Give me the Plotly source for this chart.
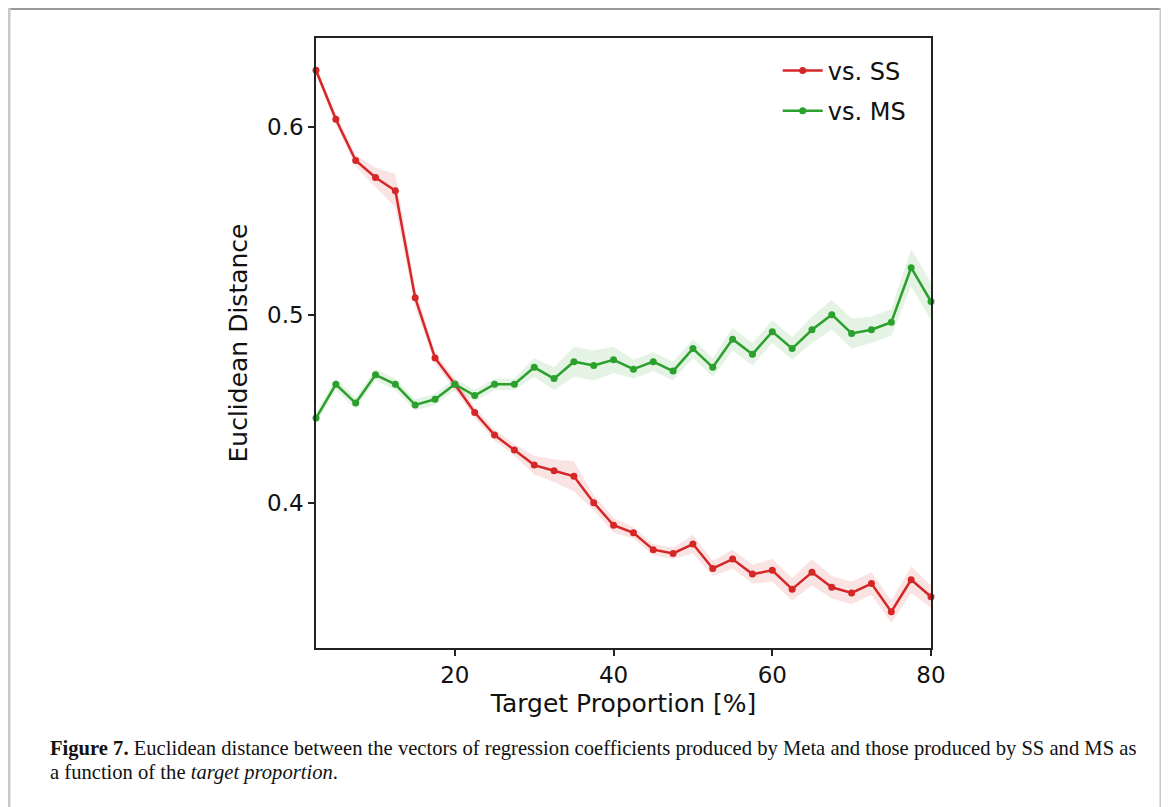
import plotly.graph_objects as go

target_proportion = [2.5, 5, 7.5, 10, 12.5, 15, 17.5, 20, 22.5, 25, 27.5, 30, 32.5, 35, 37.5, 40,
                     42.5, 45, 47.5, 50, 52.5, 55, 57.5, 60, 62.5, 65, 67.5, 70, 72.5, 75, 77.5, 80]

vs_ss = [0.630, 0.604, 0.582, 0.573, 0.566, 0.509, 0.477, 0.463, 0.448, 0.436, 0.428, 0.420,
         0.417, 0.414, 0.400, 0.388, 0.384, 0.375, 0.373, 0.378, 0.365, 0.370, 0.362, 0.364,
         0.354, 0.363, 0.355, 0.352, 0.357, 0.342, 0.359, 0.350]
vs_ss_err = [0.002, 0.003, 0.003, 0.005, 0.009, 0.005, 0.003, 0.003, 0.003, 0.003, 0.003, 0.005,
             0.006, 0.008, 0.004, 0.004, 0.003, 0.003, 0.003, 0.005, 0.004, 0.005, 0.005, 0.006,
             0.006, 0.007, 0.006, 0.006, 0.006, 0.006, 0.007, 0.006]

vs_ms = [0.445, 0.463, 0.453, 0.468, 0.463, 0.452, 0.455, 0.463, 0.457, 0.463, 0.463, 0.472,
         0.466, 0.475, 0.473, 0.476, 0.471, 0.475, 0.470, 0.482, 0.472, 0.487, 0.479, 0.491,
         0.482, 0.492, 0.500, 0.490, 0.492, 0.496, 0.525, 0.507]
vs_ms_err = [0.003, 0.003, 0.003, 0.003, 0.003, 0.003, 0.003, 0.003, 0.003, 0.003, 0.003, 0.005,
             0.006, 0.008, 0.008, 0.007, 0.005, 0.005, 0.005, 0.005, 0.005, 0.006, 0.006, 0.006,
             0.006, 0.007, 0.008, 0.008, 0.007, 0.007, 0.010, 0.010]

series = [
    ("vs. SS", vs_ss, vs_ss_err, "#d62728", "rgba(214,39,40,0.13)"),
    ("vs. MS", vs_ms, vs_ms_err, "#2ca02c", "rgba(44,160,44,0.13)"),
]

fig = go.Figure()
for name, vals, err, color, fill in series:
    upper = [v + e for v, e in zip(vals, err)]
    lower = [v - e for v, e in zip(vals, err)]
    fig.add_trace(go.Scatter(
        x=target_proportion + target_proportion[::-1],
        y=upper + lower[::-1],
        fill="toself", fillcolor=fill, line=dict(width=0),
        hoverinfo="skip", showlegend=False, mode="lines"))
for name, vals, err, color, fill in series:
    fig.add_trace(go.Scatter(
        x=target_proportion, y=vals, name=name, mode="lines+markers",
        legendgroup=name,
        line=dict(color=color, width=2.5),
        marker=dict(color=color, size=7),
        cliponaxis=False))

# page body adds an 8px offset; figure coordinates below are page coords minus 8
OFF = 8
W, H = 1169 - OFF, 807 - OFF
L, R, T, B = 316 - OFF, 931 - OFF, 38 - OFF, 648 - OFF
pw, ph = R - L, B - T


def px(x):
    return (x - OFF - L) / pw


def py(y):
    return (B - (y - OFF)) / ph


axis_common = dict(
    showline=True, mirror=True, linecolor="#222222", linewidth=1.5,
    ticks="outside", ticklen=6, tickwidth=1.5, tickcolor="#222222",
    showgrid=False, zeroline=False,
    tickfont=dict(family="DejaVu Sans", size=23, color="#111111"),
)

fig.update_layout(
    width=W, height=H,
    margin=dict(l=L, r=W - R, t=T, b=H - B),
    paper_bgcolor="white", plot_bgcolor="white",
    showlegend=True,
    legend=dict(x=0.967, y=0.983, xanchor="right", yanchor="top",
                bgcolor="rgba(0,0,0,0)", font=dict(family="DejaVu Sans", size=24, color="#111111"),
                itemwidth=40, tracegroupgap=6),
    xaxis=dict(range=[2.5, 80], tickvals=[20, 40, 60, 80], ticktext=["20", "40", "60", "80"],
               title=dict(text="Target Proportion [%]", standoff=7,
                          font=dict(family="DejaVu Sans", size=25, color="#111111")),
               **axis_common),
    yaxis=dict(range=[0.3227, 0.6472], tickvals=[0.4, 0.5, 0.6], ticktext=["0.4", "0.5", "0.6"],
               title=dict(text="Euclidean Distance", standoff=12,
                          font=dict(family="DejaVu Sans", size=25, color="#111111")),
               **axis_common),
)

# outer frame of the figure panel
fig.add_shape(type="line", xref="paper", yref="paper", x0=px(8), x1=px(1162), y0=py(9), y1=py(9),
              line=dict(color="#9a9a9a", width=2))
fig.add_shape(type="line", xref="paper", yref="paper", x0=px(9), x1=px(9), y0=py(8), y1=py(807),
              line=dict(color="#c8c8c8", width=3))
fig.add_shape(type="line", xref="paper", yref="paper", x0=px(1161), x1=px(1161), y0=py(8), y1=py(807),
              line=dict(color="#c8c8c8", width=3))

# caption
fig.add_annotation(xref="paper", yref="paper", x=px(48), y=py(748), xanchor="left", yanchor="middle",
                   showarrow=False, align="left",
                   text="<b>Figure 7.</b> Euclidean distance between the vectors of regression coefficients produced by Meta and those produced by SS and MS as",
                   font=dict(family="Liberation Serif", size=20.6, color="#111111"))
fig.add_annotation(xref="paper", yref="paper", x=px(48), y=py(772), xanchor="left", yanchor="middle",
                   showarrow=False, align="left",
                   text="a function of the <i>target proportion</i>.",
                   font=dict(family="Liberation Serif", size=20.6, color="#111111"))

fig.write_html("out.html")
